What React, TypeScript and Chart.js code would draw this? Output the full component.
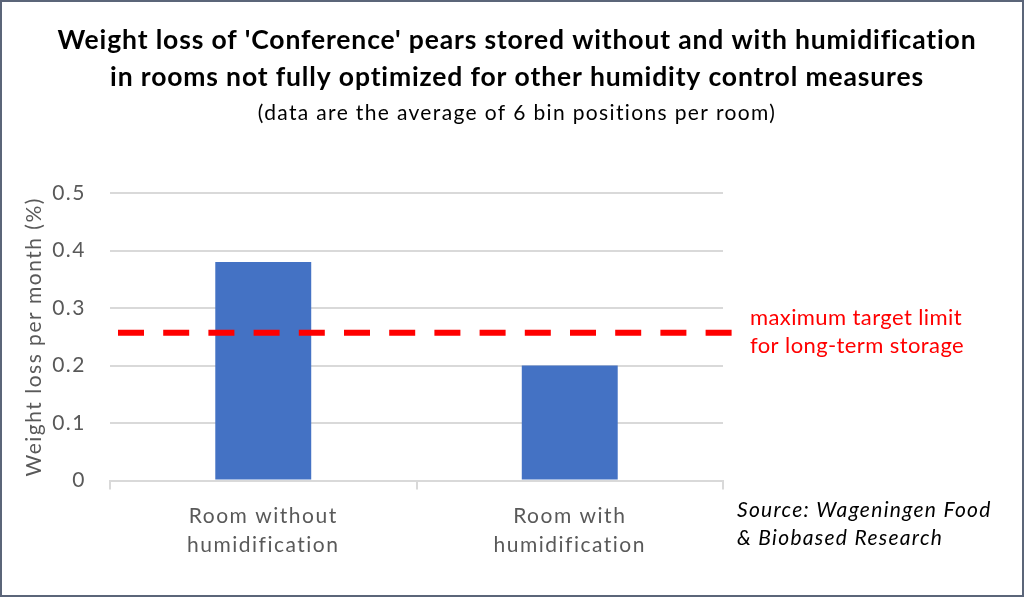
import React, { useEffect, useRef } from "react";
import { Chart, registerables } from "chart.js";

Chart.register(...registerables);

// ---- data ----
const categories: string[][] = [
  ["Room without", "humidification"],
  ["Room with", "humidification"],
];
const weightLoss: number[] = [0.38, 0.2];
const targetLimit = 0.257;
const yMin = 0;
const yMax = 0.5;
const yStep = 0.1;

const titleLines: string[] = [
  "Weight loss of 'Conference' pears stored without and with humidification",
  "in rooms not fully optimized for other humidity control measures",
];
const subtitleText = "(data are the average of 6 bin positions per room)";
const yAxisTitle = "Weight loss per month (%)";
const limitLabel: string[] = ["maximum target limit", "for long-term storage"];
const sourceLines: string[] = ["Source: Wageningen Food", "& Biobased Research"];

const FONT = "Lato, 'Open Sans', sans-serif";

const setSpacing = (ctx: any, v: string) => {
  if ("letterSpacing" in ctx) ctx.letterSpacing = v;
};

const overlayPlugin = {
  id: "overlay",
  beforeDraw(chart: any) {
    setSpacing(chart.ctx, "1.5px");
  },
  afterDatasetsDraw(chart: any) {
    const { ctx, chartArea, scales } = chart;
    const y = scales.y.getPixelForValue(targetLimit);
    ctx.save();
    ctx.strokeStyle = "#FF0000";
    ctx.lineWidth = 6;
    ctx.setLineDash([26, 19.2]);
    ctx.beginPath();
    ctx.moveTo(chartArea.left + 8, y);
    ctx.lineTo(chartArea.right + 10, y);
    ctx.stroke();
    ctx.restore();
  },
  afterDraw(chart: any) {
    const { ctx, width, height } = chart;
    ctx.save();
    ctx.textBaseline = "alphabetic";
    // title
    ctx.fillStyle = "#000000";
    ctx.textAlign = "center";
    setSpacing(ctx, "0.85px");
    ctx.font = `bold 26.5px ${FONT}`;
    ctx.fillText(titleLines[0], 517, 48.5);
    ctx.fillText(titleLines[1], 517, 85.5);
    setSpacing(ctx, "1.35px");
    ctx.font = `21px ${FONT}`;
    ctx.fillText(subtitleText, 517, 120);
    // limit label
    ctx.textAlign = "left";
    ctx.fillStyle = "#FF0000";
    setSpacing(ctx, "0.4px");
    ctx.font = `22px ${FONT}`;
    ctx.fillText(limitLabel[0], 750, 325);
    ctx.fillText(limitLabel[1], 750, 353);
    // source
    ctx.fillStyle = "#000000";
    setSpacing(ctx, "1.3px");
    ctx.font = `italic 21px ${FONT}`;
    ctx.fillText(sourceLines[0], 737, 517);
    ctx.fillText(sourceLines[1], 737, 545);
    setSpacing(ctx, "0px");
    // frame
    ctx.strokeStyle = "#5b6579";
    ctx.lineWidth = 2;
    ctx.strokeRect(1, 1, width - 2, height - 2);
    ctx.restore();
  },
};

export default function App() {
  const ref = useRef<HTMLCanvasElement | null>(null);

  useEffect(() => {
    if (!ref.current) return;
    const chart = new Chart(ref.current, {
      type: "bar",
      data: {
        labels: categories,
        datasets: [
          {
            data: weightLoss,
            backgroundColor: "#4472C4",
            barPercentage: 0.313,
            categoryPercentage: 1,
          },
        ],
      },
      options: {
        animation: false,
        responsive: false,
        devicePixelRatio: 1,
        layout: { padding: { left: 10, top: 193, right: 301, bottom: 36.5 } },
        plugins: {
          legend: { display: false },
          tooltip: { enabled: false },
          title: { display: false },
        },
        scales: {
          x: {
            grid: {
              drawOnChartArea: false,
              drawTicks: true,
              tickLength: 9,
              color: "#d9d9d9",
              lineWidth: 2,
            },
            border: { color: "#d9d9d9", width: 2 },
            ticks: {
              color: "#595959",
              font: { family: FONT, size: 21, lineHeight: 1.36 },
              padding: 12.5,
              maxRotation: 0,
            },
            afterFit(scale: any) {
              scale.height = 80;
            },
          },
          y: {
            min: yMin,
            max: yMax,
            border: { display: false },
            grid: { color: "#d9d9d9", lineWidth: 2, drawTicks: false },
            ticks: {
              stepSize: yStep,
              color: "#595959",
              font: { family: FONT, size: 21 },
              padding: 24,
            },
            title: {
              display: true,
              text: yAxisTitle,
              color: "#595959",
              font: { family: FONT, size: 21 },
              padding: { top: 12, bottom: 0 },
            },
            afterFit(scale: any) {
              scale.width = 100;
            },
          },
        },
      },
      plugins: [overlayPlugin],
    });
    return () => chart.destroy();
  }, []);

  return (
    <div style={{ position: "fixed", left: 0, top: 0, width: 1024, height: 597, background: "#ffffff" }}>
      <canvas ref={ref} width={1024} height={597} style={{ display: "block" }} />
    </div>
  );
}
